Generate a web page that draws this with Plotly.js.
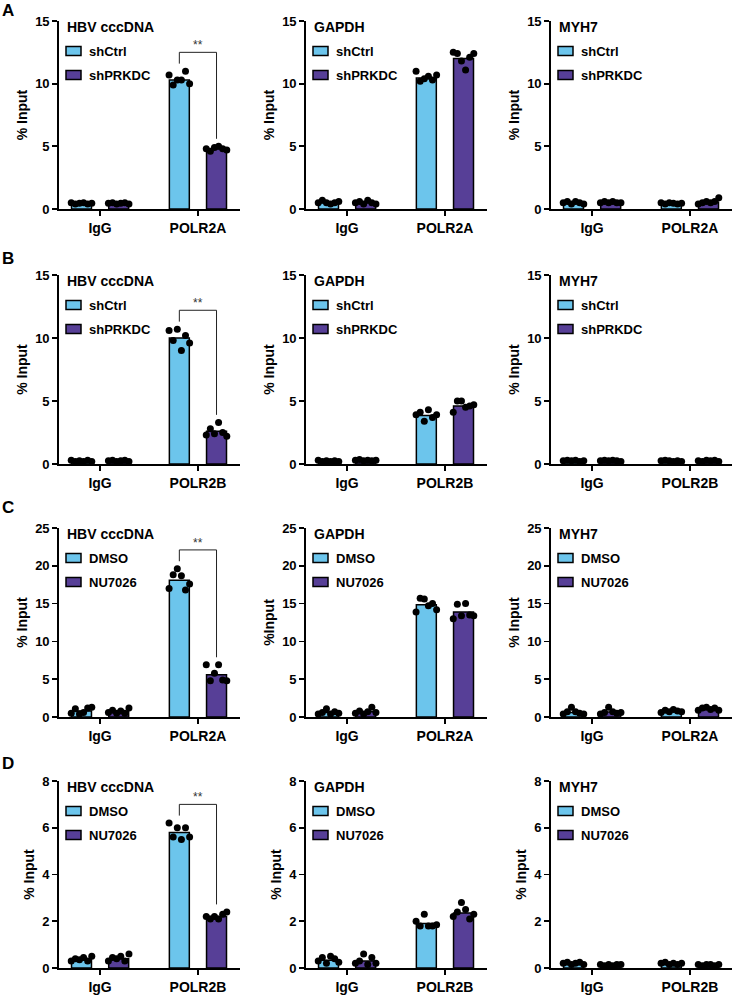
<!DOCTYPE html>
<html><head><meta charset="utf-8">
<script src="https://cdn.plot.ly/plotly-3.0.1.min.js"></script>
<style>html,body{margin:0;padding:0;background:#fff}#chart{width:733px;height:997px}</style>
</head><body><div id="chart"></div>
<script>
// ---------- data ----------
const panelLetters = ['A','B','C','D'];
const targets = ['HBV cccDNA','GAPDH','MYH7'];
const groupsAB = ['shCtrl','shPRKDC'];
const groupsCD = ['DMSO','NU7026'];
const catsA = ['IgG','POLR2A'];
const catsB = ['IgG','POLR2B'];
const catsC = ['IgG','POLR2A'];
const catsD = ['IgG','POLR2B'];
const yMaxes = [15,15,25,8];
const yDticks = [5,5,5,2];
const yTitlesA = ['% Input','% Input','% Input'];
const yTitlesB = ['% Input','% Input','% Input'];
const yTitlesC = ['% Input','%Input','% Input'];
const yTitlesD = ['% Input','% Input','% Input'];

// Row A
const a1Ctrl=[0.45,10.3], a1Trt=[0.45,4.8];
const a1CtrlPts=[[0.5,0.4,0.45,0.5,0.4,0.45],[10.7,9.9,10.3,10.3,11.0,10.0]];
const a1TrtPts=[[0.45,0.5,0.4,0.45,0.5,0.4],[4.8,4.6,4.9,5.0,4.8,4.7]];
const a2Ctrl=[0.5,10.45], a2Trt=[0.5,12.0];
const a2CtrlPts=[[0.5,0.7,0.5,0.4,0.5,0.6],[11.0,10.2,10.4,10.6,10.3,10.7]];
const a2TrtPts=[[0.5,0.6,0.4,0.7,0.5,0.4],[12.5,12.4,11.8,11.1,12.1,12.4]];
const a3Ctrl=[0.45,0.45], a3Trt=[0.5,0.55];
const a3CtrlPts=[[0.5,0.6,0.4,0.6,0.5,0.4],[0.5,0.4,0.5,0.45,0.4,0.45]];
const a3TrtPts=[[0.5,0.6,0.5,0.6,0.5,0.5],[0.4,0.5,0.6,0.5,0.6,0.9]];
// Row B
const b1Ctrl=[0.25,10.0], b1Trt=[0.25,2.6];
const b1CtrlPts=[[0.3,0.2,0.25,0.2,0.3,0.2],[10.6,9.8,10.7,9.0,10.2,9.6]];
const b1TrtPts=[[0.25,0.3,0.2,0.25,0.3,0.2],[2.3,2.8,2.4,3.3,2.5,2.2]];
const b2Ctrl=[0.25,3.85], b2Trt=[0.3,4.6];
const b2CtrlPts=[[0.3,0.2,0.25,0.2,0.25,0.2],[3.9,4.1,3.4,4.3,3.7,3.9]];
const b2TrtPts=[[0.3,0.35,0.25,0.3,0.25,0.3],[4.1,5.0,5.0,4.5,4.6,4.7]];
const b3Ctrl=[0.25,0.25], b3Trt=[0.25,0.25];
const b3CtrlPts=[[0.25,0.3,0.25,0.3,0.2,0.25],[0.25,0.3,0.25,0.2,0.25,0.2]];
const b3TrtPts=[[0.25,0.3,0.25,0.3,0.25,0.2],[0.25,0.2,0.3,0.25,0.3,0.2]];
// Row C
const c1Ctrl=[0.8,18.1], c1Trt=[0.7,5.6];
const c1CtrlPts=[[0.5,1.1,0.4,0.6,1.2,1.3],[17.0,18.8,19.6,18.7,16.8,17.6]];
const c1TrtPts=[[0.6,0.9,0.5,0.8,0.5,1.2],[6.9,4.8,5.8,6.9,4.9,4.8]];
const c2Ctrl=[0.6,14.85], c2Trt=[0.7,13.9];
const c2CtrlPts=[[0.4,0.6,1.1,0.4,0.7,0.5],[13.9,15.7,15.6,14.7,15.0,14.2]];
const c2TrtPts=[[0.5,0.8,0.4,0.7,1.3,0.6],[13.0,14.9,13.4,15.0,13.5,13.4]];
const c3Ctrl=[0.6,0.8], c3Trt=[0.65,1.05];
const c3CtrlPts=[[0.4,0.7,1.3,0.7,0.5,0.4],[0.6,0.9,0.7,1.0,0.8,0.7]];
const c3TrtPts=[[0.4,0.6,1.3,0.7,0.5,0.6],[0.9,1.2,1.3,1.0,1.2,0.9]];
// Row D
const d1Ctrl=[0.35,5.8], d1Trt=[0.4,2.2];
const d1CtrlPts=[[0.3,0.4,0.35,0.45,0.3,0.5],[6.2,5.6,6.0,5.5,6.0,5.6]];
const d1TrtPts=[[0.3,0.45,0.4,0.5,0.3,0.6],[2.2,2.1,2.2,2.1,2.3,2.4]];
const d2Ctrl=[0.33,1.9], d2Trt=[0.3,2.35];
const d2CtrlPts=[[0.3,0.45,0.2,0.5,0.4,0.25],[2.0,1.8,2.3,1.8,1.8,1.85]];
const d2TrtPts=[[0.2,0.3,0.6,0.15,0.45,0.2],[2.2,2.4,2.8,2.5,2.1,2.3]];
const d3Ctrl=[0.2,0.2], d3Trt=[0.14,0.14];
const d3CtrlPts=[[0.2,0.25,0.15,0.2,0.25,0.15],[0.2,0.25,0.15,0.2,0.15,0.2]];
const d3TrtPts=[[0.15,0.1,0.15,0.1,0.15,0.15],[0.15,0.1,0.15,0.15,0.1,0.15]];

// ---------- layout helpers ----------
const W=733,H=997;
const rowsPx=[[21,209],[275,464],[528,717],[781,968]];
const colsPx=[[59,240],[306,487],[551,732]];
const letterY=[10,259,508,763];
const OFF=0.19, BW=0.204, JIT=0.042;
const BLUE='#6CC5EC', PURPLE='#573F97';
const FONT='"Liberation Sans", Arial, sans-serif';
const px=x=>x/W, py=y=>1-y/H;

const rows=[
 {groups:groupsAB,cats:catsA,titles:yTitlesA,panels:[[a1Ctrl,a1Trt,a1CtrlPts,a1TrtPts],[a2Ctrl,a2Trt,a2CtrlPts,a2TrtPts],[a3Ctrl,a3Trt,a3CtrlPts,a3TrtPts]]},
 {groups:groupsAB,cats:catsB,titles:yTitlesB,panels:[[b1Ctrl,b1Trt,b1CtrlPts,b1TrtPts],[b2Ctrl,b2Trt,b2CtrlPts,b2TrtPts],[b3Ctrl,b3Trt,b3CtrlPts,b3TrtPts]]},
 {groups:groupsCD,cats:catsC,titles:yTitlesC,panels:[[c1Ctrl,c1Trt,c1CtrlPts,c1TrtPts],[c2Ctrl,c2Trt,c2CtrlPts,c2TrtPts],[c3Ctrl,c3Trt,c3CtrlPts,c3TrtPts]]},
 {groups:groupsCD,cats:catsD,titles:yTitlesD,panels:[[d1Ctrl,d1Trt,d1CtrlPts,d1TrtPts],[d2Ctrl,d2Trt,d2CtrlPts,d2TrtPts],[d3Ctrl,d3Trt,d3CtrlPts,d3TrtPts]]}
];

const traces=[], shapes=[], annotations=[];
const layout={width:W,height:H,margin:{l:0,r:0,t:0,b:0},paper_bgcolor:'#fff',plot_bgcolor:'rgba(0,0,0,0)',showlegend:false,font:{family:FONT,color:'#000'}};

rows.forEach((row,r)=>{
  annotations.push({xref:'paper',yref:'paper',x:px(8),y:py(letterY[r]),text:'<b>'+panelLetters[r]+'</b>',showarrow:false,xanchor:'center',yanchor:'middle',font:{size:17,color:'#000',family:FONT}});
  row.panels.forEach((p,c)=>{
    const k=r*3+c+1;
    const xid=k===1?'x':'x'+k, yid=k===1?'y':'y'+k;
    const xk=k===1?'xaxis':'xaxis'+k, yk=k===1?'yaxis':'yaxis'+k;
    const [ctrl,trt,ctrlPts,trtPts]=p;
    const ymax=yMaxes[r];
    const colors=[BLUE,PURPLE], offs=[-OFF,OFF];
    [ctrl,trt].forEach((vals,g)=>{
      traces.push({type:'bar',x:row.cats.map((_,i)=>i+offs[g]),y:vals,width:BW,xaxis:xid,yaxis:yid,
        marker:{color:colors[g],line:{color:'#000',width:1.5}},hoverinfo:'skip',name:row.groups[g]});
    });
    [ctrlPts,trtPts].forEach((pts,g)=>{
      const xs=[],ys=[];
      pts.forEach((arr,i)=>arr.forEach((v,j)=>{xs.push(i+offs[g]+(j-(arr.length-1)/2)*JIT);ys.push(v);}));
      traces.push({type:'scatter',mode:'markers',x:xs,y:ys,xaxis:xid,yaxis:yid,cliponaxis:false,
        marker:{color:'#000',size:7},hoverinfo:'skip'});
    });
    layout[xk]={domain:[px(colsPx[c][0]),px(colsPx[c][1])],range:[-0.42,1.43],anchor:yid,
      tickvals:[0,1],ticktext:row.cats,showline:true,linecolor:'#000',linewidth:1.8,ticks:'outside',ticklen:5,tickwidth:1.8,tickcolor:'#000',
      showgrid:false,zeroline:false,fixedrange:true,tickfont:{family:FONT,size:14,weight:'bold',color:'#000'}};
    layout[yk]={domain:[py(rowsPx[r][1]),py(rowsPx[r][0])],range:[0,ymax],dtick:yDticks[r],tick0:0,anchor:xid,
      showline:true,linecolor:'#000',linewidth:1.8,ticks:'outside',ticklen:5,tickwidth:1.8,tickcolor:'#000',
      showgrid:false,zeroline:false,fixedrange:true,tickfont:{family:FONT,size:13,weight:'bold',color:'#000'},
      title:{text:row.titles[c],standoff:4,font:{family:FONT,size:14,weight:'bold',color:'#000'}}};
    const ax=colsPx[c][0], top=rowsPx[r][0];
    annotations.push({xref:'paper',yref:'paper',x:px(ax+6),y:py(top+6),text:'<b>'+targets[c]+'</b>',showarrow:false,xanchor:'left',yanchor:'middle',font:{size:14,color:'#000',family:FONT}});
    [0,1].forEach(g=>{
      const cy=top+30+g*24;
      shapes.push({type:'rect',xref:'paper',yref:'paper',x0:px(ax+7),x1:px(ax+22),y0:py(cy-4.5),y1:py(cy+4.5),fillcolor:colors[g],line:{color:'#000',width:1.5}});
      annotations.push({xref:'paper',yref:'paper',x:px(ax+28),y:py(cy),text:'<b>'+row.groups[g]+'</b>',showarrow:false,xanchor:'left',yanchor:'middle',font:{size:13,color:'#000',family:FONT}});
    });
    if(c===0){
      const mL=Math.max(...ctrlPts[1]), mR=Math.max(...trtPts[1]);
      const yb=mL+0.1*ymax, yl=mL+0.04*ymax, yr=mR+0.04*ymax;
      shapes.push({type:'path',xref:xid,yref:yid,path:`M ${1-OFF},${yl} L ${1-OFF},${yb} L ${1+OFF},${yb} L ${1+OFF},${yr}`,line:{color:'#222',width:1}});
      annotations.push({xref:xid,yref:yid,x:1,y:yb,text:'**',showarrow:false,xanchor:'center',yanchor:'bottom',yshift:-2,font:{size:12,color:'#333',family:FONT}});
    }
  });
});
layout.shapes=shapes; layout.annotations=annotations;
Plotly.newPlot('chart',traces,layout,{staticPlot:true,displayModeBar:false});
</script></body></html>
